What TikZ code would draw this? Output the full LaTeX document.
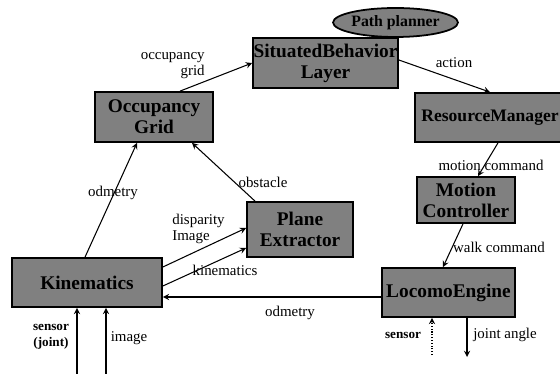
\documentclass[tikz,border=0pt]{standalone}
\usepackage{fontspec}
\setmainfont{Liberation Serif}
\usepackage{tikz}
\usetikzlibrary{arrows,positioning,calc,shapes.geometric}

\tikzset{
  module/.style={draw=black, line width=1pt, fill=black!50, text=black,
    font=\fontsize{11}{12}\selectfont\bfseries, align=center, inner sep=0pt},
  flow/.style={->, >=stealth, semithick},
  lbl/.style={font=\fontsize{8.5}{9.5}\selectfont, inner sep=0pt},
  blbl/.style={lbl, font=\fontsize{7.5}{9}\selectfont\bfseries}
}

\begin{document}
\begin{tikzpicture}[x=0.02cm, y=-0.02cm]
    \useasboundingbox (0,0) rectangle (560,374);

    % modules
    \node [module, minimum width=2.9cm, minimum height=1.0cm] (sbl) at (325.5,63) {SituatedBehavior\\Layer};
    \node [module, ellipse, minimum width=2.1cm, minimum height=0.58cm,
           font=\fontsize{9}{10}\selectfont\bfseries] (path) at (395.5,22.5) {Path planner};
    \node [module, minimum width=2.36cm, minimum height=1.0cm] (occ) at (154,117) {Occupancy\\Grid};
    \node [module, minimum width=3.0cm, minimum height=0.98cm,
           font=\fontsize{10}{11}\selectfont\bfseries] (res) at (490,117.5) {ResourceManager};
    \node [module, minimum width=1.96cm, minimum height=0.92cm] (mot) at (466,200) {Motion\\Controller};
    \node [module, minimum width=2.12cm, minimum height=1.1cm] (pla) at (300,229.5) {Plane\\Extractor};
    \node [module, minimum width=3.0cm, minimum height=0.98cm] (kin) at (87,282.5) {Kinematics};
    \node [module, minimum width=2.66cm, minimum height=0.98cm] (loc) at (448.5,292.5) {LocomoEngine};

    % free ends
    \coordinate (sj) at (77,374);
    \coordinate (im) at (106,374);
    \coordinate (ls) at (432,355);
    \coordinate (ja) at (467,357);
    \coordinate (odo) at ([yshift=-0.09cm]loc.west);

    % connectors
    \draw [flow] ([xshift=0.52cm]occ.north) -- (sbl.west);
    \draw [flow] ([yshift=0.06cm]sbl.east) -- (res.north);
    \draw [flow] ([xshift=0.16cm]res.south) -- ([xshift=0.24cm]mot.north);
    \draw [flow] ([xshift=-0.06cm]mot.south) -- ([xshift=-0.11cm]loc.north);
    \draw [flow] (odo) -- (odo -| kin.east);
    \draw [flow] ([xshift=-0.04cm]kin.north) -- ([xshift=-0.34cm]occ.south);
    \draw [flow] ([xshift=-0.9cm]pla.north) -- ([xshift=0.76cm]occ.south);
    \draw [flow] ([yshift=0.31cm]kin.east) -- ([yshift=0.03cm]pla.west);
    \draw [flow] ([yshift=-0.07cm]kin.east) -- ([yshift=-0.37cm]pla.west);
    \draw [flow] (sj) -- (sj |- kin.south);
    \draw [flow] (im) -- (im |- kin.south);
    \draw [flow, densely dotted] (ls) -- (ls |- loc.south);
    \draw [flow] (ja |- loc.south) -- (ja);

    % labels
    \node [lbl, align=right, anchor=east] (l-occ) at (205,65.5) {occupancy\\grid};
    \node [lbl] (l-act) at (454,63) {action};
    \node [lbl] (l-mc) at (491,165) {motion command};
    \node [lbl] (l-wc) at (499,247) {walk command};
    \node [lbl] (l-odo) at (290,313) {odmetry};
    \node [lbl] (l-odo2) at (113,193) {odmetry};
    \node [lbl] (l-obs) at (263,182) {obstacle};
    \node [lbl, align=left, anchor=west] (l-dis) at (172,229) {disparity\\Image};
    \node [lbl] (l-kin) at (225,270) {kinematics};
    \node [blbl, align=center] (l-sj) at (51,337) {sensor\\(joint)};
    \node [lbl] (l-im) at (129,338) {image};
    \node [blbl] (l-ls) at (403,335) {sensor};
    \node [lbl] (l-ja) at (505,335) {joint angle};
\end{tikzpicture}
\end{document}
